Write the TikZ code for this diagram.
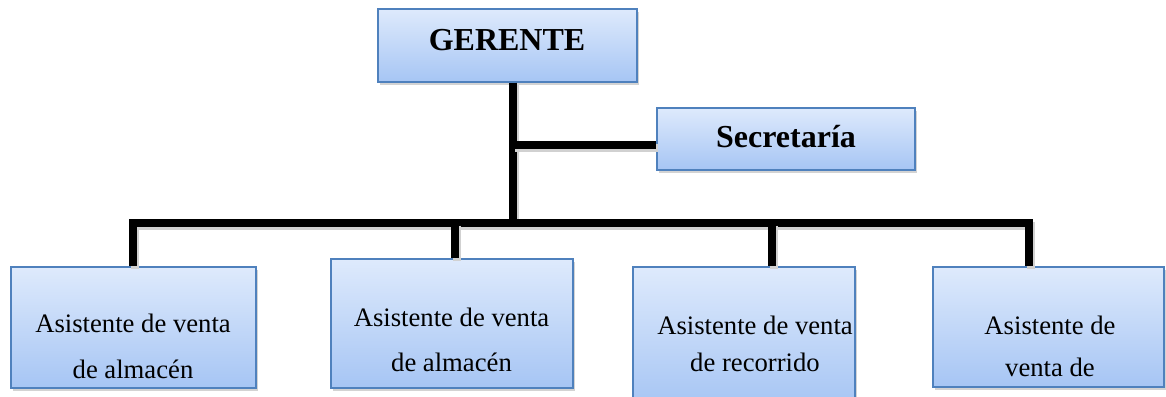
\documentclass[tikz,border=0pt]{standalone}
\usepackage{fontspec}
\setmainfont{Liberation Serif}
\usetikzlibrary{shadows}

\definecolor{boxtop}{RGB}{222,234,252}
\definecolor{boxbot}{RGB}{166,197,244}
\definecolor{boxline}{RGB}{79,129,189}

\tikzset{every picture/.style={line width=0.75pt}}
\tikzset{
  orgbox/.style={draw=boxline, line width=1.1pt, top color=boxtop, bottom color=boxbot,
    drop shadow={shadow xshift=1.5pt, shadow yshift=-2.5pt, opacity=0.35}, inner sep=0pt},
  orgline/.style={line width=6pt, line join=miter, line cap=butt,
    preaction={draw, black!18, line width=6pt, transform canvas={xshift=1.5pt, yshift=-2pt}}},
  headtext/.style={font=\fontsize{24}{28}\selectfont\bfseries, anchor=base, inner sep=0pt},
  asisttext/.style={align=center, inner sep=0pt},
}

\begin{document}
\begin{tikzpicture}[x=0.75pt,y=0.75pt,yscale=-1,xscale=1]
\useasboundingbox (0,0) rectangle (1166,396);

%Shape: Rectangle [gerente]
\node[orgbox, minimum width=194.25pt, minimum height=54.75pt] (gerente) at (507.5,45.5) {};
%Shape: Rectangle [secretaria]
\node[orgbox, minimum width=193.5pt, minimum height=46.5pt] (secretaria) at (786,139) {};
%Shape: Rectangle [asistentes]
\node[orgbox, minimum width=183.75pt, minimum height=90.75pt] (asist1) at (133.5,327.5) {};
\node[orgbox, minimum width=181.5pt, minimum height=96.75pt] (asist2) at (452,323.5) {};
\node[orgbox, minimum width=166.5pt, minimum height=105pt] (asist3) at (744,337) {};
\node[orgbox, minimum width=173.25pt, minimum height=90pt] (asist4) at (1048.5,327) {};

%Straight Lines: junctions
\coordinate (trunk) at (513,223);
\coordinate (secjoin) at (513,145);
\coordinate (d1) at (133,223);
\coordinate (d2) at (455,223);
\coordinate (d3) at (772,223);
\coordinate (d4) at (1029,223);

%Straight Lines
\draw[orgline] (gerente.south -| trunk) -- (trunk);
\draw[orgline] (secjoin) -- (secjoin -| secretaria.west);
\draw[orgline] (d1 |- asist1.north) -- (d1) -- (d4) -- (d4 |- asist4.north);
\draw[orgline] (d2) -- (d2 |- asist2.north);
\draw[orgline] (d3) -- (d3 |- asist3.north);

% Text Node
\node[headtext] (gtext) at (507,50) {GERENTE};
% Text Node
\node[headtext] (stext) at (786,147) {Secretaría};
% Text Node
\node[asisttext, font=\fontsize{20}{34.5}\selectfont] (t1) at (133,346) {Asistente de venta\\de almacén};
% Text Node
\node[asisttext, font=\fontsize{20}{33.75}\selectfont] (t2) at (451.5,339.5) {Asistente de venta\\de almacén};
% Text Node
\node[asisttext, font=\fontsize{20}{27.75}\selectfont] (t3) at (755,343.5) {Asistente de venta\\de recorrido};
% Text Node
\node[asisttext, font=\fontsize{20}{31.5}\selectfont] (t4) at (1050,346) {Asistente de\\venta de};

\end{tikzpicture}
\end{document}
